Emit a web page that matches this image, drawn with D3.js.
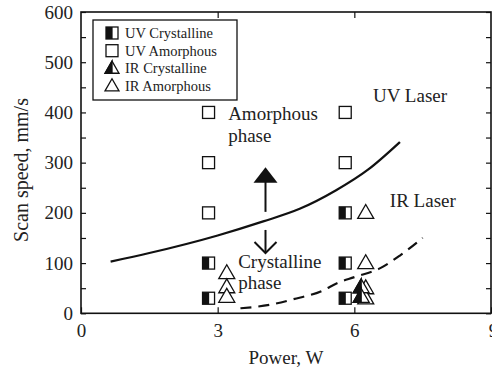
<!DOCTYPE html>
<html>
<head>
<meta charset="utf-8">
<script src="https://cdn.jsdelivr.net/npm/d3@7"></script>
<style>
  body { margin: 0; background: #fff; }
  svg text { font-family: "Liberation Serif", "DejaVu Serif", serif; fill: #222; }
</style>
</head>
<body>
<svg id="chart"></svg>
<script>
// data (power in W, scan speed in mm/s)
const uvCrystalline = [[2.8, 100], [2.8, 30], [5.8, 200], [5.8, 100], [5.8, 30]];
const uvAmorphous = [[2.8, 400], [2.8, 300], [2.8, 200], [5.8, 400], [5.8, 300]];
const irCrystalline = [[6.15, 52], [6.15, 33]];
const irAmorphous = [[3.2, 80], [3.2, 52], [3.2, 33], [6.25, 200], [6.25, 100], [6.25, 50], [6.25, 30]];
const uvLaserCurve = [[0.65, 103], [1.5, 120], [3.0, 155], [4.0, 183], [4.8, 208], [5.6, 245], [6.3, 286], [7.0, 341]];
const irLaserCurve = [[3.5, 10], [4.15, 17], [4.66, 28], [5.3, 45], [5.62, 60], [6.0, 72], [6.57, 90], [7.0, 115], [7.5, 150]];
const xTicks = [0, 3, 6, 9];
const yTicks = [0, 100, 200, 300, 400, 500, 600];
const yMinorTicks = d3.range(0, 601, 50);
const legendItems = ["UV Crystalline", "UV Amorphous", "IR Crystalline", "IR Amorphous"];
const notes = [
    {text: "UV Laser", x: 6.41, y: 421},
    {text: "IR Laser", x: 6.78, y: 212},
    {text: "Amorphous", x: 3.23, y: 385},
    {text: "phase", x: 3.23, y: 341},
    {text: "Crystalline", x: 3.45, y: 90},
    {text: "phase", x: 3.45, y: 48}
];

const serif = "'Liberation Serif', 'Times New Roman', serif";
const width = 492, height = 373;
const margin = {top: 12, right: 1, bottom: 60, left: 81};

const svg = d3.select("#chart")
    .attr("width", width)
    .attr("height", height)
    .attr("font-family", serif);

const x = d3.scaleLinear().domain([0, 9]).range([margin.left, width - margin.right]);
const y = d3.scaleLinear().domain([0, 600]).range([height - margin.bottom + 0.3, margin.top]);

const plot = svg.append("g");

// axes, ticks pointing inward
const xBottom = svg.append("g")
    .attr("transform", `translate(0,${y(0)})`)
    .call(d3.axisBottom(x).tickValues(xTicks).tickSizeInner(-6).tickSizeOuter(0).tickPadding(10));
svg.append("g")
    .attr("transform", `translate(0,${y(600)})`)
    .call(d3.axisTop(x).tickValues([3, 6]).tickSizeInner(-6).tickSizeOuter(0).tickFormat(""));
svg.append("g")
    .attr("transform", `translate(${x(0)},0)`)
    .call(d3.axisLeft(y).tickValues(yTicks).tickSizeInner(0).tickSizeOuter(0).tickPadding(8));
svg.append("g")
    .attr("transform", `translate(${x(0)},0)`)
    .call(d3.axisLeft(y).tickValues(yMinorTicks).tickSizeInner(-5).tickSizeOuter(0).tickFormat(""));
svg.append("g")
    .attr("transform", `translate(${x(9)},0)`)
    .call(d3.axisRight(y).tickValues(yMinorTicks).tickSizeInner(-5).tickSizeOuter(0).tickFormat(""));

svg.selectAll(".domain").remove();
svg.selectAll(".tick").each(function () { d3.select(this.parentNode).attr("font-family", serif).attr("font-size", 19); });
svg.selectAll(".tick line").attr("stroke", "#111").attr("stroke-width", 1.2);
svg.selectAll(".tick text").attr("fill", "#222");
xBottom.selectAll(".tick text").filter(d => d === 9).attr("dx", 2);

// frame
svg.append("rect")
    .attr("x", x(0)).attr("y", y(600))
    .attr("width", x(9) - x(0)).attr("height", y(0) - y(600))
    .attr("fill", "none").attr("stroke", "#111").attr("stroke-width", 1.6);

// axis titles
svg.append("text")
    .attr("x", (x(0) + x(9)) / 2).attr("y", 364)
    .attr("text-anchor", "middle")
    .attr("font-size", 19)
    .text("Power, W");
svg.append("text")
    .attr("transform", `translate(28,${170}) rotate(-90)`)
    .attr("text-anchor", "middle")
    .attr("font-size", 20)
    .text("Scan speed, mm/s");

// boundary curves
const line = d3.line().x(d => x(d[0])).y(d => y(d[1])).curve(d3.curveMonotoneX);
plot.append("path").datum(uvLaserCurve)
    .attr("d", line)
    .attr("fill", "none").attr("stroke", "#111").attr("stroke-width", 2.2);
plot.append("path").datum(irLaserCurve)
    .attr("d", line)
    .attr("fill", "none").attr("stroke", "#111").attr("stroke-width", 2.2)
    .attr("stroke-dasharray", "11,7");

// marker helpers
const sq = 12, tri = 16;
function square(g, half) {
    g.append("rect").attr("x", -sq / 2).attr("y", -sq / 2).attr("width", sq).attr("height", sq)
        .attr("fill", "#fff").attr("stroke", "#111").attr("stroke-width", 1.3);
    if (half) g.append("rect").attr("x", -sq / 2).attr("y", -sq / 2).attr("width", sq * 0.55).attr("height", sq)
        .attr("fill", "#111");
}
function triangle(g, half, size = tri) {
    const h = size * 0.87;
    g.append("path").attr("d", `M0,${-h * 0.6}L${size / 2},${h * 0.4}L${-size / 2},${h * 0.4}Z`)
        .attr("fill", "#fff").attr("stroke", "#111").attr("stroke-width", 1.3).attr("stroke-linejoin", "miter");
    if (half) g.append("path").attr("d", `M0,${-h * 0.6}L0,${h * 0.4}L${-size / 2},${h * 0.4}Z`)
        .attr("fill", "#111").attr("stroke", "#111").attr("stroke-width", 1.3);
}

function drawSeries(data, fn, half) {
    plot.append("g").selectAll("g")
        .data(data)
        .join("g")
        .attr("transform", d => `translate(${x(d[0])},${y(d[1])})`)
        .each(function () { fn(d3.select(this), half); });
}
drawSeries(uvAmorphous, square, false);
drawSeries(uvCrystalline, square, true);
drawSeries(irAmorphous, triangle, false);
drawSeries(irCrystalline, triangle, true);

// phase arrows
const ax = x(4.05);
plot.append("line").attr("x1", ax).attr("x2", ax).attr("y1", y(262)).attr("y2", y(202))
    .attr("stroke", "#111").attr("stroke-width", 2);
plot.append("path")
    .attr("d", `M${ax},${y(291)}L${ax + 12},${y(260)}L${ax - 12},${y(260)}Z`)
    .attr("fill", "#111");
plot.append("line").attr("x1", ax).attr("x2", ax).attr("y1", y(166)).attr("y2", y(120))
    .attr("stroke", "#111").attr("stroke-width", 2);
plot.append("path")
    .attr("d", `M${ax - 11},${y(142)}L${ax},${y(120)}L${ax + 11},${y(142)}`)
    .attr("fill", "none").attr("stroke", "#111").attr("stroke-width", 2);

// annotations
plot.selectAll("text.note")
    .data(notes)
    .join("text")
    .attr("class", "note")
    .attr("x", d => x(d.x)).attr("y", d => y(d.y))
    .attr("font-size", 19)
    .text(d => d.text);

// legend
const legend = svg.append("g");
legend.append("rect")
    .attr("x", 93).attr("y", 20).attr("width", 144).attr("height", 80)
    .attr("fill", "#fff").attr("stroke", "#111").attr("stroke-width", 1.3);
const rows = legend.selectAll("g.row")
    .data(legendItems)
    .join("g")
    .attr("class", "row")
    .attr("transform", (d, i) => `translate(112,${33 + i * 17.7})`);
rows.each(function (d, i) {
    const g = d3.select(this);
    if (i < 2) square(g, i === 0); else triangle(g, i === 2, 14);
});
rows.append("text")
    .attr("x", 13).attr("y", 5)
    .attr("font-size", 14.5)
    .text(d => d);
</script>
</body>
</html>
